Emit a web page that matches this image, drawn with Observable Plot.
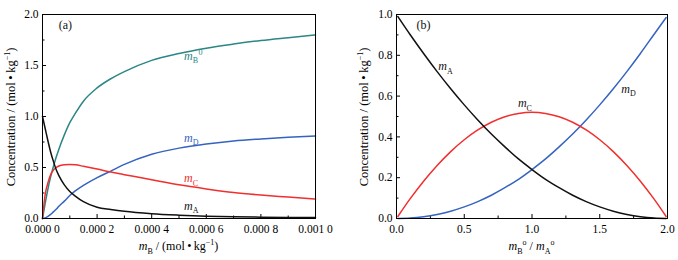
<!DOCTYPE html>
<html>
<head>
<meta charset="utf-8">
<script src="https://cdn.jsdelivr.net/npm/d3@7"></script>
<script src="https://cdn.jsdelivr.net/npm/@observablehq/plot@0.6"></script>
<style>
  html, body { margin: 0; padding: 0; background: #fff; }
  #wrap { display: flex; width: 678px; height: 260px; overflow: hidden; }
  #wrap svg { flex: none; }
  #wrap svg, #wrap svg text, #wrap svg tspan { font-family: "Liberation Serif", serif !important; }
</style>
</head>
<body>
<div id="wrap"></div>
<script>
// ---------- Panel (a): concentrations vs free m_B ----------
const mB = [0, 0.00001, 0.00002, 0.00003, 0.00004, 0.00005, 0.00006, 0.00008, 0.0001, 0.00012, 0.00015,
            0.0002, 0.00025, 0.0003, 0.0004, 0.0005, 0.0006, 0.0007, 0.0008, 0.0009, 0.001];
const mA_a  = [1.0, 0.88, 0.76, 0.65, 0.56, 0.48, 0.42, 0.33, 0.265, 0.22, 0.165,
               0.11, 0.088, 0.07, 0.047, 0.033, 0.023, 0.016, 0.013, 0.011, 0.01];
const mC_a  = [0, 0.24, 0.35, 0.43, 0.475, 0.50, 0.515, 0.527, 0.53, 0.526, 0.512,
               0.485, 0.455, 0.43, 0.38, 0.33, 0.29, 0.255, 0.23, 0.21, 0.19];
const mD_a  = [0, 0.005, 0.02, 0.04, 0.065, 0.09, 0.12, 0.17, 0.225, 0.27, 0.325,
               0.40, 0.465, 0.53, 0.63, 0.69, 0.73, 0.76, 0.78, 0.797, 0.81];
const mB0_a = [0, 0.15, 0.29, 0.41, 0.51, 0.60, 0.68, 0.82, 0.94, 1.03, 1.15,
               1.28, 1.37, 1.44, 1.55, 1.618, 1.67, 1.71, 1.745, 1.773, 1.80];

const xTicksA = [0, 0.0002, 0.0004, 0.0006, 0.0008, 0.001];
const xTickLabelsA = ["0.000 0", "0.000 2", "0.000 4", "0.000 6", "0.000 8", "0.001 0"];
const xMinorA = [0.0001, 0.0003, 0.0005, 0.0007, 0.0009];
const yTicksA = [0, 0.5, 1.0, 1.5, 2.0];
const yTickLabelsA = ["0.0", "0.5", "1.0", "1.5", "2.0"];
const yMinorA = [0.25, 0.75, 1.25, 1.75];

// ---------- Panel (b): concentrations vs m_B°/m_A° ----------
const ratio = [0.01, 0.1, 0.2, 0.3, 0.4, 0.5, 0.6, 0.7, 0.8, 0.9, 1.0,
               1.1, 1.2, 1.3, 1.4, 1.5, 1.6, 1.7, 1.8, 1.9, 1.99];
const mA_b = [0.99, 0.902, 0.809, 0.720, 0.636, 0.557, 0.483, 0.414, 0.351, 0.292, 0.240,
              0.192, 0.151, 0.114, 0.083, 0.057, 0.036, 0.020, 0.0087, 0.0022, 0.0];
const mC_b = [0.0099, 0.096, 0.183, 0.260, 0.328, 0.386, 0.434, 0.472, 0.499, 0.515, 0.521,
              0.515, 0.499, 0.472, 0.434, 0.386, 0.328, 0.260, 0.183, 0.096, 0.0099];
const mD_b = [0.0, 0.0022, 0.0087, 0.020, 0.036, 0.057, 0.083, 0.114, 0.151, 0.192, 0.240,
              0.292, 0.351, 0.414, 0.483, 0.557, 0.636, 0.720, 0.809, 0.902, 0.985];

const xTicksB = [0, 0.5, 1.0, 1.5, 2.0];
const xTickLabelsB = ["0.0", "0.5", "1.0", "1.5", "2.0"];
const xMinorB = [0.25, 0.75, 1.25, 1.75];
const yTicksB = [0, 0.2, 0.4, 0.6, 0.8, 1.0];
const yTickLabelsB = ["0.0", "0.2", "0.4", "0.6", "0.8", "1.0"];
const yMinorB = [0.1, 0.3, 0.5, 0.7, 0.9];

// colours
const TEAL = "#2b8685", BLUE = "#3563c0", RED = "#f0302e", BLACK = "#111";

// curve labels (anchor positions in data units)
const labelsA = [
  {x: 0.000061, y: 1.85, parts: [{t: "(a)"}], color: BLACK},
  {x: 0.000520, y: 1.55, parts: [{t: "m", it: 1}, {t: "B", sub: 1}, {t: "0", sup: 1, dx: 0.5}], color: TEAL},
  {x: 0.000520, y: 0.75, parts: [{t: "m", it: 1}, {t: "D", sub: 1}], color: BLUE},
  {x: 0.000520, y: 0.35, parts: [{t: "m", it: 1}, {t: "C", sub: 1}], color: RED},
  {x: 0.000520, y: 0.08, parts: [{t: "m", it: 1}, {t: "A", sub: 1}], color: BLACK}
];
const labelsB = [
  {x: 0.152, y: 0.926, parts: [{t: "(b)"}], color: BLACK},
  {x: 0.312, y: 0.725, parts: [{t: "m", it: 1}, {t: "A", sub: 1}], color: BLACK},
  {x: 0.900, y: 0.544, parts: [{t: "m", it: 1}, {t: "C", sub: 1}], color: BLACK},
  {x: 1.663, y: 0.615, parts: [{t: "m", it: 1}, {t: "D", sub: 1}], color: BLACK}
];

const FONT = "Liberation Serif, serif";
const FS = 12;       // labels and titles
const TICK_FS = 11.5; // tick labels

function mathText(sel, parts) {
  let shift = 0;
  for (const p of parts) {
    const target = p.sub ? 3.5 : p.sup ? -5 : 0;
    const t = sel.append("tspan").text(p.t).attr("dy", target - shift);
    shift = target;
    if (p.sub || p.sup) t.attr("font-size", 8);
    if (p.it) t.attr("font-style", "italic");
    if (p.dx) t.attr("dx", p.dx);
  }
}

function rows(xs, ys) { return xs.map((x, i) => ({x, y: ys[i]})); }

function panel(cfg) {
  const H = 260, mt = 14, mb = 42;
  const plotW = cfg.width - cfg.marginLeft - cfg.marginRight;
  const plotH = H - mt - mb;
  const plot = Plot.plot({
    width: cfg.width, height: H,
    marginTop: mt, marginBottom: mb, marginLeft: cfg.marginLeft, marginRight: cfg.marginRight,
    x: {domain: cfg.xDomain},
    y: {domain: cfg.yDomain},
    style: {fontFamily: FONT, fontSize: TICK_FS + "px", color: "#000", background: "#fff"},
    marks: [
      Plot.tickX(cfg.xMajor, {x: d => d, insetTop: plotH - 4, stroke: "#000", strokeWidth: 1}),
      Plot.tickX(cfg.xMinor, {x: d => d, insetTop: plotH - 2.5, stroke: "#000", strokeWidth: 1}),
      Plot.tickY(cfg.yMajor, {y: d => d, insetRight: plotW - 4, stroke: "#000", strokeWidth: 1}),
      Plot.tickY(cfg.yMinor, {y: d => d, insetRight: plotW - 2.5, stroke: "#000", strokeWidth: 1}),
      Plot.axisX({ticks: cfg.xMajor, tickSize: 0, tickPadding: 6, label: null, fontVariant: "normal",
                  tickFormat: d => cfg.xLabels[cfg.xMajor.indexOf(d)]}),
      Plot.axisY({ticks: cfg.yMajor, tickSize: 0, tickPadding: 4, label: null, fontVariant: "normal",
                  tickFormat: d => cfg.yLabels[cfg.yMajor.indexOf(d)]}),
      ...cfg.series.map(s => Plot.line(rows(s.x, s.y),
        {x: "x", y: "y", stroke: s.color, strokeWidth: 1.5, curve: "monotone-x"})),
      Plot.frame({stroke: "#000", strokeWidth: 1})
    ]
  });
  const svg = d3.select(plot);
  const sx = plot.scale("x"), sy = plot.scale("y");
  for (const l of cfg.labels) {
    const t = svg.append("text")
      .attr("x", sx.apply(l.x)).attr("y", sy.apply(l.y))
      .attr("fill", l.color).attr("font-size", FS).attr("text-anchor", "start");
    mathText(t, l.parts);
  }
  // x-axis title
  const xt = svg.append("text")
    .attr("x", cfg.marginLeft + plotW / 2).attr("y", 250)
    .attr("text-anchor", "middle").attr("font-size", FS).attr("fill", "#000");
  mathText(xt, cfg.xTitle);
  // y-axis title
  const yt = svg.append("text")
    .attr("transform", `translate(${cfg.yTitleX},${mt + plotH / 2 + 1}) rotate(-90)`)
    .attr("text-anchor", "middle").attr("font-size", 12.5).attr("fill", "#000");
  mathText(yt, [{t: "Concentration / (mol\u2009•\u2009kg"}, {t: "−1", sup: 1}, {t: ")"}]);
  return plot;
}

const wrap = document.getElementById("wrap");

wrap.appendChild(panel({
  width: 338, marginLeft: 42, marginRight: 23,
  xDomain: [0, 0.001], yDomain: [0, 2],
  xMajor: xTicksA, xMinor: xMinorA, xLabels: xTickLabelsA,
  yMajor: yTicksA, yMinor: yMinorA, yLabels: yTickLabelsA,
  series: [
    {x: mB, y: mB0_a, color: TEAL},
    {x: mB, y: mD_a, color: BLUE},
    {x: mB, y: mC_a, color: RED},
    {x: mB, y: mA_a, color: BLACK}
  ],
  labels: labelsA,
  xTitle: [{t: "m", it: 1}, {t: "B", sub: 1}, {t: " / (mol\u2009•\u2009kg"}, {t: "−1", sup: 1}, {t: ")"}],
  yTitleX: 15
}));

wrap.appendChild(panel({
  width: 340, marginLeft: 58, marginRight: 11,
  xDomain: [0, 2], yDomain: [0, 1],
  xMajor: xTicksB, xMinor: xMinorB, xLabels: xTickLabelsB,
  yMajor: yTicksB, yMinor: yMinorB, yLabels: yTickLabelsB,
  series: [
    {x: ratio, y: mD_b, color: BLUE},
    {x: ratio, y: mC_b, color: RED},
    {x: ratio, y: mA_b, color: BLACK}
  ],
  labels: labelsB,
  xTitle: [{t: "m", it: 1}, {t: "B", sub: 1}, {t: "o", sup: 1}, {t: " / "}, {t: "m", it: 1}, {t: "A", sub: 1}, {t: "o", sup: 1}],
  yTitleX: 30
}));
</script>
</body>
</html>
